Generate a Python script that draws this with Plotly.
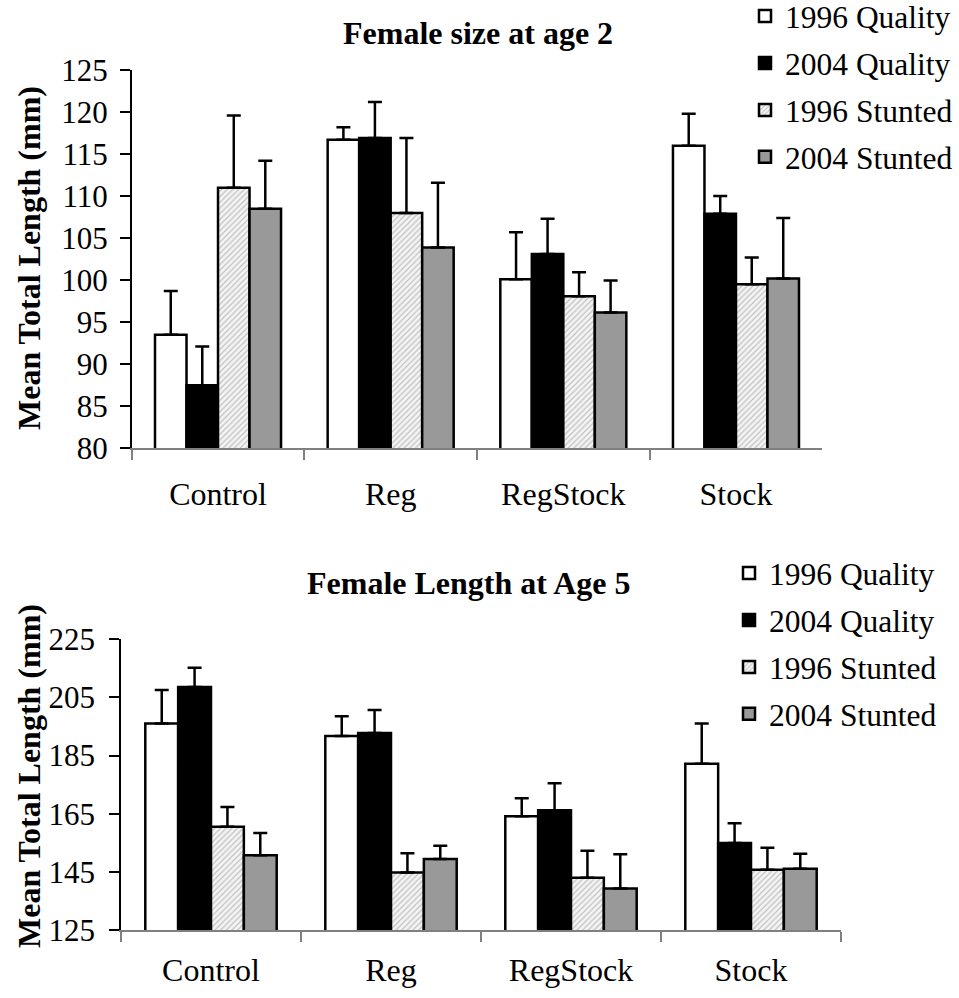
import plotly.graph_objects as go

categories = ["Control", "Reg", "RegStock", "Stock"]
series_names = ["1996 Quality", "2004 Quality", "1996 Stunted", "2004 Stunted"]

# Female size at age 2
age2_1996_quality = [93.5, 116.7, 100.1, 116.0]
age2_1996_quality_err = [5.2, 1.5, 5.6, 3.8]
age2_2004_quality = [87.5, 116.9, 103.1, 107.9]
age2_2004_quality_err = [4.6, 4.3, 4.2, 2.1]
age2_1996_stunted = [111.0, 108.0, 98.1, 99.5]
age2_1996_stunted_err = [8.6, 8.9, 2.85, 3.2]
age2_2004_stunted = [108.5, 103.9, 96.15, 100.2]
age2_2004_stunted_err = [5.7, 7.7, 3.8, 7.2]

# Female length at age 5
age5_1996_quality = [196.0, 191.7, 164.1, 182.2]
age5_1996_quality_err = [11.6, 6.8, 6.2, 13.8]
age5_2004_quality = [208.6, 192.8, 166.2, 154.9]
age5_2004_quality_err = [6.6, 7.9, 9.3, 6.8]
age5_1996_stunted = [160.5, 144.8, 143.0, 145.7]
age5_1996_stunted_err = [6.8, 6.6, 9.3, 7.6]
age5_2004_stunted = [150.7, 149.4, 139.3, 146.1]
age5_2004_stunted_err = [7.7, 4.6, 11.8, 5.1]

FONT = "Liberation Serif"
W, H = 959, 998

styles = [
    dict(color="white"),
    dict(color="black"),
    dict(color="#eeeeee", pattern=dict(shape="/", fgcolor="#8c8c8c", bgcolor="#f4f4f4", size=4, solidity=0.3)),
    dict(color="#999999"),
]

age2 = [
    (age2_1996_quality, age2_1996_quality_err),
    (age2_2004_quality, age2_2004_quality_err),
    (age2_1996_stunted, age2_1996_stunted_err),
    (age2_2004_stunted, age2_2004_stunted_err),
]
age5 = [
    (age5_1996_quality, age5_1996_quality_err),
    (age5_2004_quality, age5_2004_quality_err),
    (age5_1996_stunted, age5_1996_stunted_err),
    (age5_2004_stunted, age5_2004_stunted_err),
]

fig = go.Figure()

for panel, (data, xa, ya, leg) in enumerate([(age2, "x", "y", "legend"), (age5, "x2", "y2", "legend2")]):
    for i, (name, (vals, errs)) in enumerate(zip(series_names, data)):
        fig.add_trace(go.Bar(
            x=categories, y=vals, name=name,
            xaxis=xa, yaxis=ya, legend=leg, legendgroup=f"{panel}-{i}",
            marker=dict(**styles[i], line=dict(color="black", width=2.5)),
            error_y=dict(type="data", symmetric=False, array=errs,
                         arrayminus=[0] * len(errs), color="black",
                         thickness=2.5, width=7),
        ))

xtick_font = dict(family=FONT, size=32, color="black")
ytick_font = dict(family=FONT, size=31, color="black")

def xaxis(domain, anchor, standoff):
    return dict(domain=domain, anchor=anchor, type="category", range=[-0.5, 3.5],
                showline=True, linecolor="#808080", linewidth=1.5,
                ticks="outside", tickson="boundaries", ticklen=10, tickcolor="#808080",
                tickwidth=1.5, showgrid=False, tickfont=xtick_font, ticklabelstandoff=standoff,
                zeroline=False)

def yaxis(domain, anchor, rng, dtick, standoff):
    return dict(domain=domain, anchor=anchor, range=rng, dtick=dtick, tick0=rng[0],
                showline=True, linecolor="black", linewidth=1.5,
                ticks="outside", ticklen=10, tickcolor="black", tickwidth=1.5,
                showgrid=False, zeroline=False, tickfont=ytick_font, ticklabelstandoff=standoff)

legend_common = dict(font=dict(family=FONT, size=31.5, color="black"),
                     bgcolor="rgba(0,0,0,0)", tracegroupgap=3,
                     xanchor="left", yanchor="top", itemclick=False)

title_font = dict(family=FONT, size=32, color="black")

fig.update_layout(
    width=W, height=H,
    margin=dict(l=0, r=0, t=0, b=0, autoexpand=False),
    paper_bgcolor="white", plot_bgcolor="white",
    font=dict(family=FONT),
    barmode="group", bargap=0.27, bargroupgap=0,
    showlegend=True,
    xaxis=xaxis([131.7 / W, 822.3 / W], "y", 17),
    yaxis=yaxis([1 - 448.3 / H, 1 - 70 / H], "x", [80, 125], 5, 6),
    xaxis2=xaxis([121 / W, 841 / W], "y2", 11),
    yaxis2=yaxis([1 - 930 / H, 1 - 639.3 / H], "x2", [125, 225], 20, 8),
    legend=dict(x=745 / W, y=1 + 11 / H, **legend_common),
    legend2=dict(x=729 / W, y=1 - 546 / H, **legend_common),
    annotations=[
        dict(text="<b>Female size at age 2</b>", x=478 / W, y=1 - 33 / H,
             xref="paper", yref="paper", showarrow=False, xanchor="center", yanchor="middle",
             font=title_font),
        dict(text="<b>Female Length at Age 5</b>", x=469 / W, y=1 - 583 / H,
             xref="paper", yref="paper", showarrow=False, xanchor="center", yanchor="middle",
             font=title_font),
        dict(text="<b>Mean Total Length (mm)</b>", x=29 / W, y=1 - 258 / H, textangle=-90,
             xref="paper", yref="paper", showarrow=False, xanchor="center", yanchor="middle",
             font=title_font),
        dict(text="<b>Mean Total Length (mm)</b>", x=29 / W, y=1 - 776 / H, textangle=-90,
             xref="paper", yref="paper", showarrow=False, xanchor="center", yanchor="middle",
             font=title_font),
    ],
)

fig.write_html("out.html")
